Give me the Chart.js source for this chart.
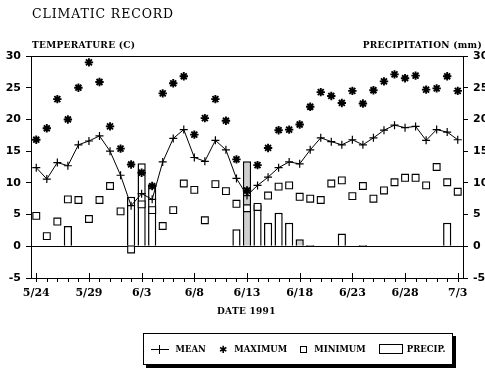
<!DOCTYPE html>
<html>
<head>
<meta charset="utf-8">
<script src="https://cdn.jsdelivr.net/npm/chart.js@4/dist/chart.umd.min.js"></script>
<style>
  html, body { margin: 0; padding: 0; background: #fff; }
  #wrap { position: relative; width: 485px; height: 374px; overflow: hidden; font-family: "DejaVu Serif", serif; color: #000; }
  #wrap canvas { position: absolute; left: 0; top: 0; }
  .lbl { position: absolute; white-space: nowrap; line-height: 1; }
  #title { left: 32px; top: 8px; font-size: 12.5px; letter-spacing: 0.9px; }
  #ytitle { left: 32px; top: 41px; font-size: 9px; font-weight: bold; letter-spacing: 0.3px; }
  #y2title { right: 3px; top: 41px; font-size: 9px; font-weight: bold; letter-spacing: 0.3px; }
  #xtitle { left: 217px; top: 307px; font-size: 9px; font-weight: bold; letter-spacing: 0.3px; }
  #legend { position: absolute; left: 143px; top: 333px; width: 308px; height: 30px; border: 1px solid #000;
            box-shadow: 3px 3px 0 #000; display: flex; align-items: center; justify-content: space-around;
            font-size: 8.5px; font-weight: bold; background: #fff; }
  #legend span.it { display: inline-flex; align-items: center; gap: 7px; }
  .ln { display: inline-block; position: relative; width: 18px; height: 1px; background: #000; }
  .ln::after { content: ""; position: absolute; left: 8px; top: -4px; width: 1px; height: 9px; background: #000; }
  .st { font-family: "DejaVu Sans", sans-serif; font-size: 10px; }
  .sq { display: inline-block; width: 5px; height: 5px; border: 1px solid #000; }
  .bx { display: inline-block; width: 22px; height: 8px; border: 1px solid #000; margin-right: -3px; }
</style>
</head>
<body>
<div id="wrap">
  <canvas id="chart" width="485" height="374"></canvas>
  <div class="lbl" id="title">CLIMATIC RECORD</div>
  <div class="lbl" id="ytitle">TEMPERATURE (C)</div>
  <div class="lbl" id="y2title">PRECIPITATION (mm)</div>
  <div class="lbl" id="xtitle">DATE 1991</div>
  <div id="legend">
    <span class="it"><span class="ln"></span>MEAN</span>
    <span class="it"><span class="st">✱</span>MAXIMUM</span>
    <span class="it"><span class="sq"></span>MINIMUM</span>
    <span class="it"><span class="bx"></span>PRECIP.</span>
  </div>
</div>
<script>
// ── Data ──────────────────────────────────────────────────
const DATES = [
  "5/24", "5/25", "5/26", "5/27", "5/28", "5/29", "5/30", "5/31",
  "6/1", "6/2", "6/3", "6/4", "6/5", "6/6", "6/7", "6/8", "6/9", "6/10",
  "6/11", "6/12", "6/13", "6/14", "6/15", "6/16", "6/17", "6/18", "6/19", "6/20",
  "6/21", "6/22", "6/23", "6/24", "6/25", "6/26", "6/27", "6/28", "6/29", "6/30",
  "7/1", "7/2", "7/3"
];
const MEAN = [
  12.4, 10.6, 13.2, 12.7, 16.0, 16.6, 17.4, 15.0, 11.2, 6.4,
  8.3, 7.4, 13.3, 17.0, 18.4, 14.0, 13.4, 16.7, 15.2, 10.7,
  8.0, 9.6, 10.9, 12.4, 13.3, 13.0, 15.2, 17.1, 16.5, 16.0,
  16.8, 16.0, 17.1, 18.3, 19.1, 18.7, 18.9, 16.7, 18.4, 18.0, 16.8
];
const MAXIMUM = [
  16.8, 18.6, 23.2, 20.0, 25.0, 29.0, 25.9, 18.9, 15.4, 12.9,
  11.6, 9.5, 24.1, 25.7, 26.8, 17.6, 20.2, 23.2, 19.8, 13.7,
  8.8, 12.8, 15.5, 18.3, 18.4, 19.2, 22.0, 24.3, 23.7, 22.6,
  24.5, 22.5, 24.6, 26.0, 27.1, 26.5, 26.9, 24.7, 24.9, 26.8, 24.5
];
const MINIMUM = [
  4.8, 1.6, 3.9, 7.4, 7.3, 4.3, 7.3, 9.5, 5.5, -0.5,
  6.6, 5.7, 3.2, 5.7, 9.9, 8.9, 4.1, 9.8, 8.7, 6.7,
  6.0, 6.2, 8.0, 9.4, 9.6, 7.8, 7.5, 7.3, 9.9, 10.4,
  7.9, 9.5, 7.5, 8.8, 10.1, 10.8, 10.8, 9.6, 12.5, 10.1, 8.6
];
const PRECIP = [
  0, 0, 0, 3.2, 0, 0, 0, 0, 0, 7.8,
  13.1, 9.8, 0, 0, 0, 0, 0, 0, 0, 2.7,
  13.4, 6.5, 3.7, 5.3, 3.7, 1.1, 0.2, 0, 0, 2.0,
  0, 0.2, 0, 0, 0, 0, 0, 0, 0, 3.7, 0.1
];
const Y_TICKS = { min: -5, max: 30, step: 5 };
const LABEL_EVERY = 5;
const SHADED_DAYS = ["6/13", "6/18"]; // stippled bars in the original

// ── Frame + date tick marks ───────────────────────────────
const frameTicks = {
  id: "frameTicks",
  beforeDatasetsDraw(chart) {
    const { ctx, chartArea: a, scales: { y } } = chart;
    const y0 = Math.round(y.getPixelForValue(0)) + 0.5;
    ctx.save();
    ctx.strokeStyle = "#000";
    ctx.lineWidth = 1;
    ctx.beginPath();
    ctx.moveTo(a.left, y0); ctx.lineTo(a.right, y0);
    ctx.moveTo(a.left, a.top + 0.5); ctx.lineTo(a.right, a.top + 0.5);
    ctx.stroke();
    ctx.restore();
  },
  afterDraw(chart) {
    const { ctx, chartArea: a, scales: { x } } = chart;
    ctx.save();
    ctx.strokeStyle = "#000";
    ctx.lineWidth = 1;
    ctx.beginPath();
    DATES.forEach((d, i) => {
      const px = Math.round(x.getPixelForValue(i)) + 0.5;
      ctx.moveTo(px, a.bottom + 4);
      ctx.lineTo(px, i % LABEL_EVERY === 0 ? a.bottom - 5 : a.bottom);
    });
    ctx.stroke();
    ctx.restore();
  }
};

// ── Chart ─────────────────────────────────────────────────
Chart.defaults.font.family = "'DejaVu Sans', sans-serif";
Chart.defaults.color = "#000";

const yAxis = (position, width) => ({
  position,
  min: Y_TICKS.min,
  max: Y_TICKS.max,
  afterFit: s => { s.width = width; },
  border: { color: "#000", width: 1 },
  grid: { drawOnChartArea: false, color: "#000", tickLength: 5 },
  ticks: { stepSize: Y_TICKS.step, padding: position === "left" ? 5 : 5, font: { size: 11, weight: "bold" } },
});

new Chart(document.getElementById("chart"), {
  type: "bar",
  data: {
    labels: DATES,
    datasets: [
      {
        type: "line", label: "MEAN", data: MEAN, yAxisID: "y", order: 1,
        borderColor: "#000", borderWidth: 1, tension: 0,
        pointStyle: "cross", pointRadius: 4, pointBorderWidth: 1.2, pointBorderColor: "#000",
      },
      {
        type: "line", label: "MAXIMUM", data: MAXIMUM, yAxisID: "y", order: 2, showLine: false,
        pointStyle: "star", pointRadius: 4.2, pointBorderWidth: 1.9, pointBorderColor: "#000",
      },
      {
        type: "line", label: "MINIMUM", data: MINIMUM, yAxisID: "y", order: 3, showLine: false,
        pointStyle: "rect", pointRadius: 4.8, pointBorderWidth: 1.1,
        pointBorderColor: "#000", pointBackgroundColor: "#fff",
      },
      {
        type: "bar", label: "PRECIP.", data: PRECIP, yAxisID: "y2", order: 4,
        borderColor: "#000", borderWidth: 1.5, borderSkipped: "start",
        backgroundColor: c => SHADED_DAYS.includes(DATES[c.dataIndex]) ? "#cfcfcf" : "#fff",
        barPercentage: 0.78, categoryPercentage: 1,
      },
    ],
  },
  options: {
    responsive: false,
    animation: false,
    events: [],
    layout: { padding: { top: 56, left: 0, right: 0, bottom: 0 } },
    plugins: { legend: { display: false }, tooltip: { enabled: false } },
    scales: {
      x: {
        type: "category",
        offset: true,
        afterFit: s => { s.height = 96; },
        border: { color: "#000", width: 1 },
        grid: { display: false, drawTicks: false },
        ticks: {
          autoSkip: false, maxRotation: 0, padding: 9,
          font: { family: "'DejaVu Serif', serif", size: 11, weight: "bold" },
          callback: (v, i) => (i % LABEL_EVERY === 0 ? DATES[i] : ""),
        },
      },
      y: yAxis("left", 31),
      y2: yAxis("right", 22),
    },
  },
  plugins: [frameTicks],
});
</script>
</body>
</html>
